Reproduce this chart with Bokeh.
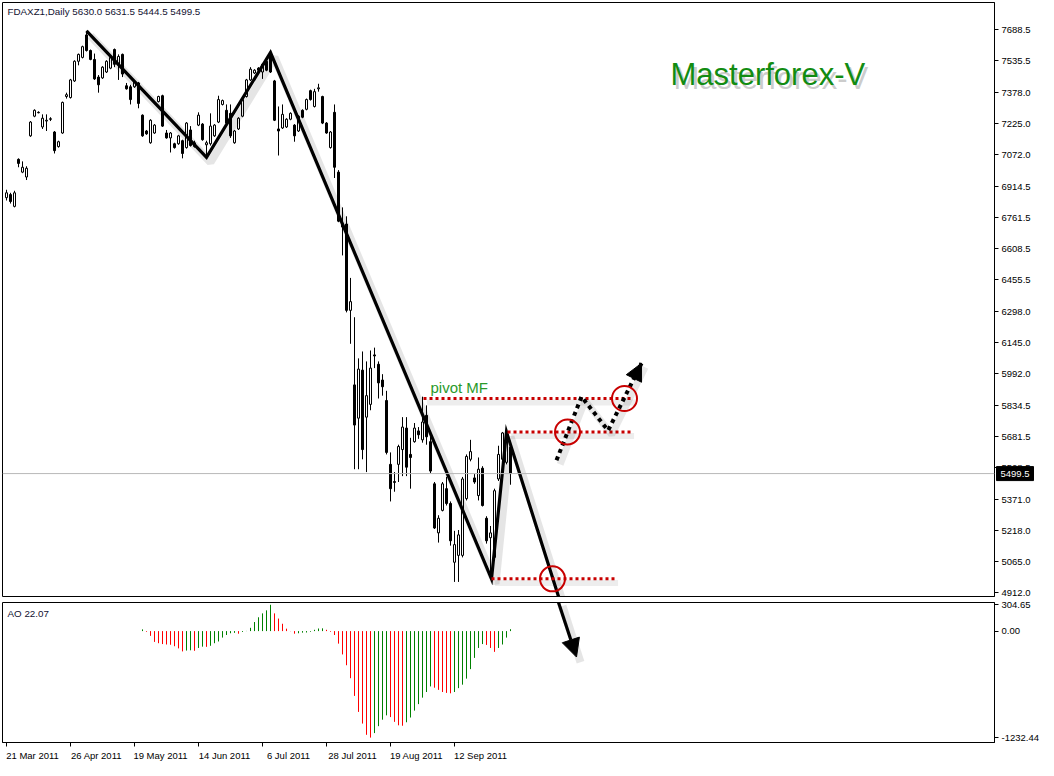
from bokeh.plotting import figure
from bokeh.models import (Range1d, FixedTicker, Span, Label, Arrow, NormalHead,
                          ColumnDataSource, PrintfTickFormatter, GridBox)
from bokeh.core.properties import value
from bokeh.embed import file_html
from bokeh.resources import INLINE

# ---------------- data ----------------
symbol = "FDAXZ1,Daily"
header_ohlc = [5630.0, 5631.5, 5444.5, 5499.5]

opens = [6861, 6876, 6818, 7050, 6987, 6963, 7166, 7263, 7282, 7210,
         7239, 7250, 7185, 7113, 7180, 7360, 7355, 7437, 7534, 7553,
         7664, 7587, 7543, 7456, 7452, 7481, 7500, 7592, 7519, 7568,
         7413, 7408, 7408, 7427, 7268, 7190, 7132, 7180, 7335, 7364,
         7180, 7156, 7127, 7127, 7142, 7108, 7195, 7113, 7219, 7224,
         7122, 7127, 7166, 7234, 7321, 7292, 7277, 7132, 7200, 7263,
         7360, 7442, 7476, 7500, 7481, 7534, 7568, 7437, 7200, 7205,
         7210, 7248, 7219, 7190, 7292, 7297, 7389, 7311, 7398, 7360,
         7229, 7108, 7282, 6987, 6731, 6731, 6305, 5937, 5773, 6010,
         5778, 5841, 6085, 6039, 5961, 5860, 5545, 5460, 5545, 5618,
         5724, 5594, 5657, 5710, 5666, 5787, 5657, 5449, 5207, 5318,
         5425, 5352, 5062, 5096, 5096, 5376, 5570, 5478, 5391, 5526,
         5279, 5183, 5086, 5473, 5570, 5555, 5630.0]
highs = [6900, 6885, 6895, 7055, 7040, 7016, 7239, 7297, 7287, 7272,
         7272, 7258, 7190, 7142, 7335, 7379, 7447, 7539, 7572, 7611,
         7684, 7592, 7572, 7466, 7510, 7539, 7558, 7597, 7568, 7572,
         7427, 7418, 7442, 7432, 7272, 7195, 7248, 7224, 7364, 7369,
         7195, 7185, 7132, 7171, 7147, 7234, 7214, 7142, 7282, 7229,
         7142, 7277, 7224, 7364, 7345, 7321, 7321, 7195, 7258, 7350,
         7447, 7505, 7495, 7505, 7524, 7539, 7577, 7442, 7311, 7321,
         7253, 7282, 7224, 7268, 7297, 7350, 7394, 7398, 7423, 7364,
         7234, 7190, 7321, 6997, 6813, 6769, 6465, 6271, 6068, 6102,
         6053, 6107, 6121, 6053, 5990, 5908, 5604, 5507, 5642, 5778,
         5778, 5676, 5749, 5729, 5879, 5836, 5681, 5458, 5294, 5458,
         5483, 5362, 5217, 5221, 5483, 5594, 5666, 5497, 5579, 5536,
         5289, 5241, 5425, 5637, 5705, 5715, 5631.5]
lows = [6847, 6832, 6813, 7011, 6982, 6948, 7161, 7258, 7277, 7200,
        7190, 7239, 7079, 7108, 7176, 7350, 7350, 7432, 7514, 7548,
        7582, 7539, 7442, 7379, 7447, 7476, 7495, 7505, 7442, 7456,
        7394, 7321, 7403, 7302, 7161, 7171, 7127, 7176, 7331, 7210,
        7152, 7084, 7103, 7122, 7055, 7103, 7113, 7108, 7214, 7142,
        7069, 7118, 7161, 7229, 7316, 7224, 7156, 7127, 7195, 7258,
        7355, 7437, 7471, 7485, 7447, 7485, 7476, 7239, 7069, 7200,
        7205, 7243, 7137, 7185, 7253, 7292, 7340, 7306, 7384, 7224,
        7176, 7103, 6958, 6740, 6576, 6295, 6140, 5521, 5521, 5570,
        5507, 5812, 6020, 5870, 5884, 5594, 5362, 5410, 5458, 5487,
        5487, 5425, 5652, 5671, 5652, 5642, 5502, 5226, 5159, 5313,
        5342, 5144, 4965, 4965, 5086, 5367, 5560, 5449, 5367, 5337,
        5154, 4980, 5076, 5463, 5560, 5545, 5444.5]
closes = [6885, 6842, 6885, 7030, 7011, 7006, 7234, 7292, 7280, 7253,
          7243, 7248, 7093, 7137, 7331, 7369, 7442, 7534, 7568, 7606,
          7587, 7543, 7447, 7418, 7505, 7534, 7553, 7519, 7558, 7471,
          7398, 7345, 7432, 7326, 7166, 7176, 7243, 7219, 7360, 7214,
          7156, 7180, 7108, 7166, 7079, 7229, 7118, 7132, 7268, 7147,
          7132, 7214, 7219, 7345, 7340, 7229, 7166, 7190, 7253, 7345,
          7442, 7495, 7490, 7490, 7519, 7490, 7481, 7243, 7190, 7272,
          7248, 7277, 7166, 7263, 7258, 7345, 7345, 7384, 7403, 7229,
          7180, 7185, 7011, 6745, 6716, 6305, 6348, 5739, 6015, 5618,
          5884, 6020, 6080, 5947, 5928, 5604, 5425, 5456, 5633, 5729,
          5531, 5579, 5724, 5691, 5754, 5681, 5512, 5231, 5279, 5449,
          5352, 5168, 5149, 5197, 5473, 5584, 5608, 5458, 5521, 5342,
          5168, 5207, 5415, 5594, 5700, 5691, 5499.5]

ao_first_bar = 34
ao_values = [20, -8, -55, -125, -140, -150, -155, -158, -175, -200,
             -235, -225, -222, -228, -195, -180, -182, -170, -140, -120,
             -75, -45, -25, -20, -30, -10, 2, 38, 105, 160,
             205, 240, 304.65, 205, 145, 85, 28, -2, -30, -25,
             -18, -16, -8, 15, 30, 32, 15, -8, -45, -145,
             -270, -395, -545, -750, -935, -1070, -1200, -1232.44, -1180, -1100,
             -1025, -975, -995, -1050, -1090, -1095, -1055, -1000, -920, -845,
             -770, -705, -640, -655, -680, -705, -715, -720, -705, -660,
             -620, -550, -440, -310, -195, -150, -160, -195, -240, -195,
             -155, -75, 22.07]

price_ticks = [7688.5, 7535.5, 7378.0, 7225.0, 7072.0, 6914.5, 6761.5, 6608.5,
               6455.5, 6298.0, 6145.0, 5992.0, 5834.5, 5681.5, 5528.5, 5371.0,
               5218.0, 5065.0, 4912.0]
ao_ticks = [304.65, 0.0, -1232.44]
date_bars = [0, 16, 32, 48, 64, 80, 96, 112]
date_labels = ["21 Mar 2011", "26 Apr 2011", "19 May 2011", "14 Jun 2011",
               "6 Jul 2011", "28 Jul 2011", "19 Aug 2011", "12 Sep 2011"]

# hand-drawn analysis (bar index, price)
trend_x = [20, 50, 66, 121.25, 125, 142.5]
trend_y = [7684, 7060, 7577, 4980, 5705, 4612]
down_tip_ao = -300
level_prices = [5870, 5705, 4980]
level_x0 = [104.25, 125.25, 121.25]
level_x1 = [156.25, 156.0, 152.0]
circle_x = [154.5, 140.25, 136.5]
circle_y = [5870, 5705, 4980]
zig_x = [137.5, 143.75, 150.4, 158.75]
zig_y = [5565, 5879, 5712, 6044]
pivot_label = ("pivot MF", 106.0, 5922)
brand_label = ("Masterforex-V", 166.0, 7470)

# ---------------- layout ----------------
FW = 992            # 4 px per bar
MAIN_H = 594
AO_H = 140
XR = (-1.0, 247.0)
YR = (4893.0, 7824.0)
AOR = (-1289.0, 331.0)
FONT = "Liberation Sans"
RED = "#c80000"
LEFT = 2
TOP, BOTTOM = 2, 4


def base_fig(h, yr, **kw):
    f = figure(frame_width=FW, frame_height=h, x_range=Range1d(*XR),
               y_range=Range1d(*yr), output_backend="svg", toolbar_location=None,
               y_axis_location="right", background_fill_color="white",
               border_fill_color="white", outline_line_color="black",
               outline_line_width=1, min_border_left=LEFT, min_border_right=0, **kw)
    f.grid.visible = False
    return f


def style_y(ax, ticks, fmt):
    ax.ticker = FixedTicker(ticks=ticks)
    ax.formatter = PrintfTickFormatter(format=fmt)
    ax.major_tick_out = 4
    ax.major_tick_in = 0
    ax.minor_tick_out = 0
    ax.minor_tick_in = 0
    ax.major_label_standoff = 3
    ax.major_label_text_font = FONT
    ax.major_label_text_font_size = "9.5px"
    ax.major_label_text_color = "black"
    ax.axis_line_color = "black"
    ax.major_tick_line_color = "black"


# ---------- main price pane ----------
p = base_fig(MAIN_H, YR, x_axis_location=None, min_border_top=TOP, min_border_bottom=BOTTOM)
style_y(p.yaxis[0], price_ticks, "%.1f")

idx = list(range(len(opens)))
src = ColumnDataSource(dict(
    x=idx, high=highs, low=lows,
    top=[max(o, c) for o, c in zip(opens, closes)],
    bottom=[min(o, c) for o, c in zip(opens, closes)],
    fill=["white" if c >= o else "black" for o, c in zip(opens, closes)],
))

p.add_layout(Span(location=closes[-1], dimension="width", line_color="#b8b8b8", line_width=1))
p.segment("x", "high", "x", "low", source=src, color="black", line_width=1)
p.vbar(x="x", width=0.5, top="top", bottom="bottom", fill_color="fill",
       line_color="black", line_width=1, source=src)

# trend lines with soft shadow
p.line([x + 1.0 for x in trend_x], [y - 24 for y in trend_y], color="#000000",
       alpha=0.10, line_width=8)
p.line(trend_x, trend_y, color="black", line_width=3.2, line_join="miter")

# red dotted levels
for y, x0, x1 in zip(level_prices, level_x0, level_x1):
    p.line([x0 + 0.9, x1 + 0.9], [y - 20, y - 20], color="#000000", alpha=0.07, line_width=6)
    p.line([x0, x1], [y, y], color=RED, line_width=3, line_dash="3 3")

# black dotted zigzag forecast
p.line([x + 0.9 for x in zig_x], [y - 20 for y in zig_y], color="#000000",
       alpha=0.09, line_width=7)
p.line(zig_x, zig_y, color="black", line_width=4, line_dash="4 4")
p.add_layout(Arrow(end=NormalHead(size=17, fill_color="black", line_color="black"),
                   x_start=zig_x[-2], y_start=zig_y[-2], x_end=zig_x[-1], y_end=zig_y[-1],
                   line_alpha=0))

# circles
p.scatter(circle_x, circle_y, marker="circle", size=25, fill_alpha=0,
          line_color=RED, line_width=2)

# texts
p.add_layout(Label(x=pivot_label[1], y=pivot_label[2], text=pivot_label[0],
                   text_font=FONT, text_font_size="15px", text_color="#2a9a2a",
                   text_baseline="alphabetic"))
p.add_layout(Label(x=brand_label[1], y=brand_label[2], text=brand_label[0],
                   text_font=FONT, text_font_size="31px", text_color="#9a9a9a",
                   text_alpha=0.5, x_offset=3, y_offset=-4, text_baseline="alphabetic"))
p.add_layout(Label(x=brand_label[1], y=brand_label[2], text=brand_label[0],
                   text_font=FONT, text_font_size="31px", text_color="#128c12",
                   text_baseline="alphabetic"))

price_per_px = (YR[1] - YR[0]) / MAIN_H
x_per_px = (XR[1] - XR[0]) / FW
p.add_layout(Label(x=XR[0] + 5 * x_per_px, y=YR[1] - 3 * price_per_px,
                   text=symbol + "  " + " ".join(f"{v:.1f}" for v in header_ohlc),
                   text_font=FONT, text_font_size="9.8px", text_color="#101030",
                   text_baseline="top"))

# ---------- transparent overlay holding the current-price tag beside the frame ----------
OVW = LEFT + FW + 40
ov = figure(frame_width=OVW, frame_height=MAIN_H, x_range=Range1d(0, OVW),
            y_range=Range1d(*YR), output_backend="svg", toolbar_location=None,
            x_axis_location=None, y_axis_location=None,
            min_border_left=0, min_border_right=0, min_border_top=TOP,
            min_border_bottom=BOTTOM, background_fill_alpha=0, border_fill_alpha=0,
            outline_line_color=None)
ov.grid.visible = False
tag_y = closes[-1]
ov.quad(left=[LEFT + FW], right=[LEFT + FW + 37],
        top=[tag_y + 7 * price_per_px], bottom=[tag_y - 7 * price_per_px],
        fill_color="black", line_color="black")
ov.text(x=[LEFT + FW + 4], y=[tag_y], text=[f"{tag_y:.1f}"], text_color="white",
        text_font=value(FONT), text_font_size="9.5px", text_baseline="middle",
        text_align="left")

# ---------- AO pane ----------
q = base_fig(AO_H, AOR, min_border_top=2, min_border_bottom=0)
style_y(q.yaxis[0], ao_ticks, "%.2f")

ao_x = [ao_first_bar + k for k in range(len(ao_values))]
ao_col = ["#008000"] + ["#008000" if ao_values[k] > ao_values[k - 1] else "#ff0000"
                        for k in range(1, len(ao_values))]
q.segment(x0=ao_x, y0=[0] * len(ao_x), x1=ao_x, y1=ao_values, color=ao_col, line_width=1)

shift = 6.5
ax = q.xaxis[0]
ax.ticker = FixedTicker(ticks=[b + shift for b in date_bars], minor_ticks=date_bars)
ax.major_label_overrides = {b + shift: s for b, s in zip(date_bars, date_labels)}
ax.major_tick_out = 0
ax.major_tick_in = 0
ax.minor_tick_out = 4
ax.minor_tick_in = 0
ax.minor_tick_line_color = "black"
ax.major_label_standoff = 3
ax.major_label_text_font = FONT
ax.major_label_text_font_size = "9.5px"
ax.major_label_text_color = "black"
ax.axis_line_color = "black"

ao_per_px = (AOR[1] - AOR[0]) / AO_H
q.add_layout(Label(x=XR[0] + 5 * x_per_px, y=AOR[1] - 5 * ao_per_px,
                   text=f"AO {ao_values[-1]:.2f}", text_font=FONT,
                   text_font_size="9.8px", text_color="#101030", text_baseline="top"))

# continuation of the big down arrow into the AO pane
t = (trend_y[-2] - YR[0]) / (trend_y[-2] - trend_y[-1])
exit_x = trend_x[-2] + t * (trend_x[-1] - trend_x[-2])
q.line([exit_x + 1.0, trend_x[-1] + 1.0], [AOR[1] - 40, down_tip_ao - 60],
       color="#000000", alpha=0.10, line_width=8)
q.add_layout(Arrow(end=NormalHead(size=18, fill_color="black", line_color="black"),
                   x_start=exit_x, y_start=AOR[1], x_end=trend_x[-1], y_end=down_tip_ao,
                   line_width=3.2, line_color="black"))

layout = GridBox(children=[(p, 0, 0), (q, 1, 0), (ov, 0, 0)], spacing=0)
open("out.html", "w").write(file_html(layout, INLINE))
